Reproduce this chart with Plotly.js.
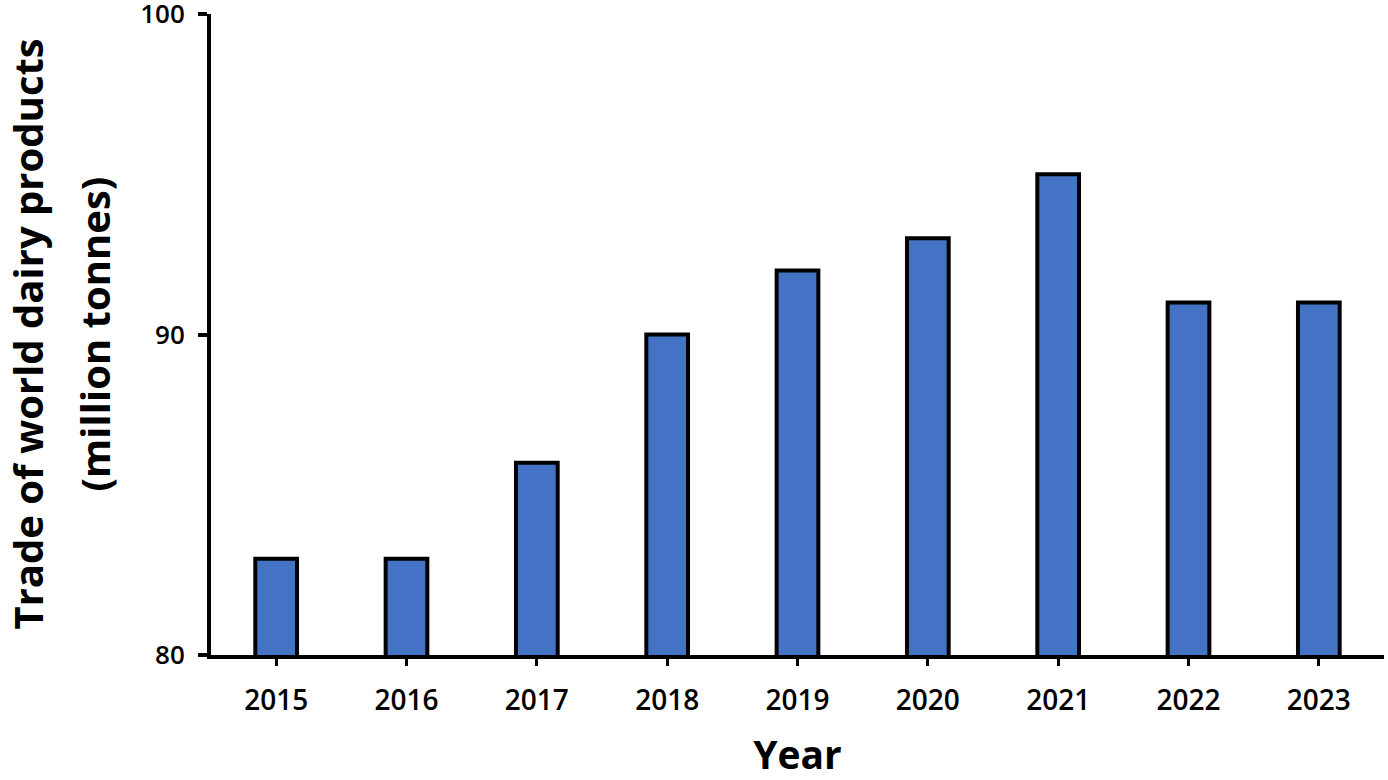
<!DOCTYPE html>
<html>
<head>
<meta charset="utf-8">
<script src="https://cdn.plot.ly/plotly-3.0.1.min.js"></script>
<style>html,body{margin:0;padding:0;background:#fff;}#chart{width:1388px;height:780px;}</style>
</head>
<body>
<div id="chart"></div>
<script>
const years = ['2015','2016','2017','2018','2019','2020','2021','2022','2023'];
const trade = [83, 83, 86, 90, 92, 93, 95, 91, 91];
const yTicks = [80, 90, 100];
const yTitleLine1 = 'Trade of world dairy products';
const yTitleLine2 = '(million tonnes)';
const xTitle = 'Year';

const fontFam = '"Open Sans", "Noto Sans", sans-serif';
const titleFont = {family: fontFam, size: 40, color: '#000', weight: 700};

Plotly.newPlot('chart', [{
  type: 'bar',
  x: years,
  y: trade,
  width: 0.32,
  marker: {color: '#4472C4', line: {color: '#000', width: 4}},
  hoverinfo: 'x+y'
}], {
  width: 1388, height: 780,
  margin: {l: 211, r: 4, t: 14, b: 125},
  paper_bgcolor: '#fff', plot_bgcolor: '#fff',
  showlegend: false,
  xaxis: {
    type: 'category',
    range: [-0.5, 8.5],
    showline: true, linecolor: '#000', linewidth: 4,
    ticks: 'outside', ticklen: 7, tickwidth: 3, tickcolor: '#000',
    showgrid: false, zeroline: false,
    tickfont: {family: fontFam, size: 28, color: '#000', weight: 600},
    ticklabelstandoff: 10,
    title: {text: xTitle, font: {family: fontFam, size: 39, color: '#000', weight: 700}, standoff: 50}
  },
  yaxis: {
    range: [80, 100],
    tickvals: yTicks,
    ticktext: yTicks.map(String),
    ticklabeloverflow: 'allow',
    showline: true, linecolor: '#000', linewidth: 4,
    ticks: 'outside', ticklen: 9, tickwidth: 4, tickcolor: '#000',
    showgrid: false, zeroline: false,
    tickfont: {family: fontFam, size: 26, color: '#000', weight: 600},
    ticklabelstandoff: 8
  },
  annotations: [
    {text: yTitleLine1, textangle: -90, showarrow: false, xref: 'paper', yref: 'paper',
     x: (27 - 211) / 1173, y: 0.5, xanchor: 'center', yanchor: 'middle', font: titleFont},
    {text: yTitleLine2, textangle: -90, showarrow: false, xref: 'paper', yref: 'paper',
     x: (94 - 211) / 1173, y: 0.5, xanchor: 'center', yanchor: 'middle', font: titleFont}
  ]
}, {displayModeBar: false});
</script>
</body>
</html>
